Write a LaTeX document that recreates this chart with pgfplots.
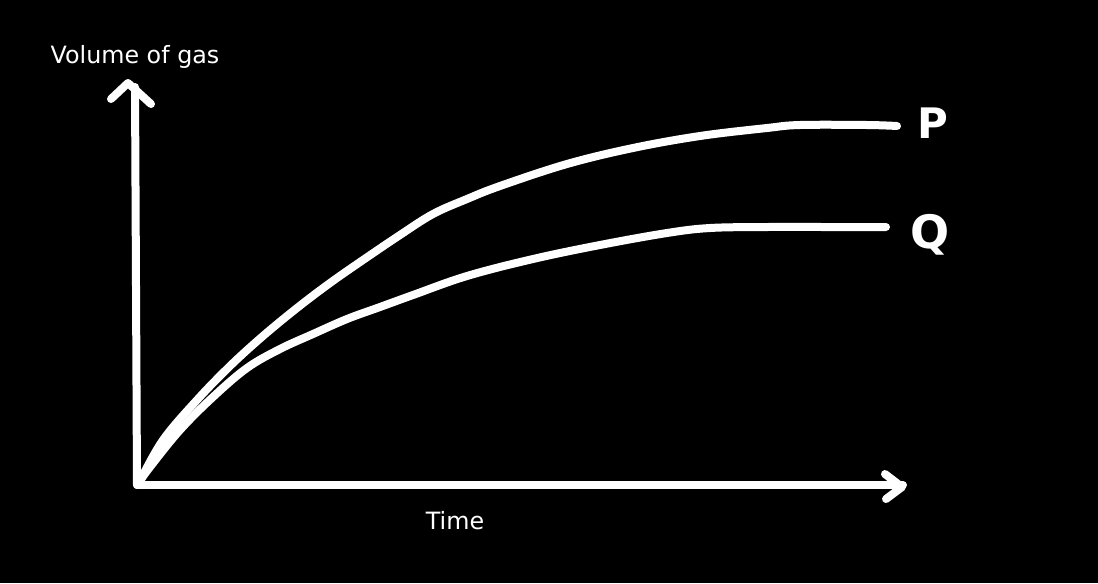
\documentclass[border=0pt]{standalone}
\usepackage{pgfplots}
\pgfplotsset{compat=1.18}
\usepackage{fontspec}
\setmainfont{DejaVu Sans}
\begin{document}
\begin{tikzpicture}
\begin{axis}[
    width=549pt, height=291.5pt,
    scale only axis,
    xmin=0, xmax=1098,
    ymin=0, ymax=583,
    y dir=reverse,
    hide axis,
    clip=false,
]
% background
\fill[black] (axis cs:0,0) rectangle (axis cs:1098,583);

% axes (hand drawn)
\draw[white, line width=4pt, line cap=round, line join=round]
    (axis cs:137,485) -- (axis cs:903,485);
\draw[white, line width=4pt, line cap=round, line join=round]
    (axis cs:137,485) -- (axis cs:135,87);
\draw[white, line width=4pt, line cap=round, line join=round]
    (axis cs:111,99) -- (axis cs:128,83) -- (axis cs:151,104);
\draw[white, line width=4pt, line cap=round, line join=round]
    (axis cs:885,474) -- (axis cs:902,487) -- (axis cs:886,499);

% curve P
\addplot[white, line width=4pt, line cap=round, line join=round, smooth, tension=0.6] coordinates {
    (140,481) (163,440) (197,400) (230,366) (263,336) (297,308) (330,283)
    (363,260) (400,235) (433,214) (467,199) (500,186) (567,164) (633,148)
    (700,136) (767,128) (800,125) (867,125) (897,126)
};

% curve Q
\addplot[white, line width=4pt, line cap=round, line join=round, smooth, tension=0.6] coordinates {
    (140,481) (150,467) (180,430) (213,397) (247,368) (280,349) (313,334)
    (347,319) (380,307) (413,295) (467,276) (533,259) (600,245) (667,233)
    (710,228) (767,227) (830,227) (886,227)
};

\node[white, font=\fontsize{11.9}{14}\selectfont] at (axis cs:135,57) {Volume of gas};
\node[white, font=\fontsize{11.9}{14}\selectfont] at (axis cs:455,521) {Time};
\node[white, font=\fontsize{21}{24}\bfseries] at (axis cs:933,123) {P};
\node[white, font=\fontsize{23}{26}\bfseries] at (axis cs:930,235) {Q};
\end{axis}
\end{tikzpicture}
\end{document}
